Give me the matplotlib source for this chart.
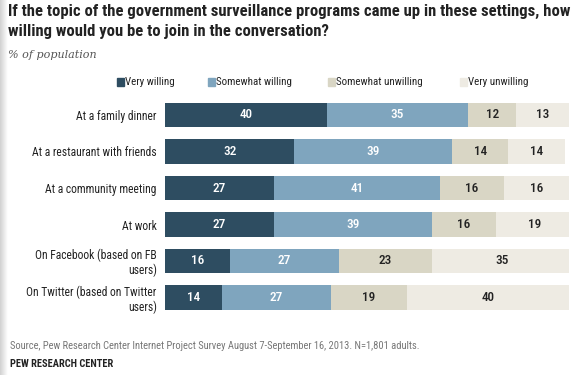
import numpy as np
import matplotlib
matplotlib.use('Agg')
import matplotlib.pyplot as plt

categories = ['At a family dinner', 'At a restaurant with friends', 'At a community meeting',
              'At work', 'On Facebook (based on FB\nusers)', 'On Twitter (based on Twitter\nusers)']
very_willing = [40, 32, 27, 27, 16, 14]
somewhat_willing = [35, 39, 41, 39, 27, 27]
somewhat_unwilling = [12, 14, 16, 16, 23, 19]
very_unwilling = [13, 14, 16, 19, 35, 40]

series = [very_willing, somewhat_willing, somewhat_unwilling, very_unwilling]
names = ['Very willing', 'Somewhat willing', 'Somewhat unwilling', 'Very unwilling']
colors = ['#2e4d61', '#7fa5be', '#d9d6c5', '#eeebe3']
text_colors = ['white', 'white', '#222222', '#222222']

plt.rcParams['font.family'] = ['Roboto Condensed', 'DejaVu Sans']

fig = plt.figure(figsize=(5.87, 3.75), dpi=100)

# grey shadow along the left edge
sh = fig.add_axes([0, 0, 8 / 587, 1])
sh.imshow(np.linspace(0.82, 1, 50).reshape(1, -1), cmap='gray', vmin=0, vmax=1,
          aspect='auto', extent=(0, 1, 0, 1))
sh.axis('off')

ax = fig.add_axes([165 / 587, 1 - 315.75 / 375, 404 / 587, 219 / 375])
y = np.arange(len(categories))
left = np.zeros(len(categories))
for vals, name, c, tc in zip(series, names, colors, text_colors):
    bars = ax.barh(y, vals, left=left, height=0.66, color=c, label=name)
    for yi, l, v in zip(y, left, vals):
        ax.text(l + v / 2, yi, str(v), ha='center', va='center', color=tc,
                fontsize=9.5, fontweight='medium')
    left = left + np.array(vals)

ax.set_xlim(0, 100)
ax.set_ylim(len(categories) - 0.5, -0.5)
ax.set_yticks(y)
ax.set_yticklabels(categories, fontsize=8.4, color='#222222', linespacing=1.15)
ax.set_xticks([])
ax.tick_params(axis='y', length=0, pad=6)
for s in ax.spines.values():
    s.set_visible(False)

fig.text(8 / 587, 1 - 4 / 375, 'If the topic of the government surveillance programs came up in these settings, how\n'
         'willing would you be to join in the conversation?',
         fontsize=12.0, fontweight='bold', va='top', ha='left', linespacing=1.4, color='#222222')
fig.text(8 / 587, 1 - 55 / 375, '% of population', fontsize=8.0, style='italic',
         family='DejaVu Serif', color='#555555', va='center')

leg_x = [117, 208, 328, 460]
for lx, name, c in zip(leg_x, names, colors):
    fig.patches.append(plt.Rectangle((lx / 587, 1 - 85.5 / 375), 7 / 587, 7 / 375,
                                     transform=fig.transFigure, color=c))
    fig.text((lx + 8) / 587, 1 - 82 / 375, name, fontsize=7.9, va='center', color='#222222')

fig.text(10 / 587, 1 - 346 / 375,
         'Source, Pew Research Center Internet Project Survey August 7-September 16, 2013. N=1,801 adults.',
         fontsize=7.6, color='#777777', va='center')
fig.text(10 / 587, 1 - 364 / 375, 'PEW RESEARCH CENTER', fontsize=7.5, fontweight='bold',
         color='#222222', va='center')

fig.savefig('out.png', dpi=100)
